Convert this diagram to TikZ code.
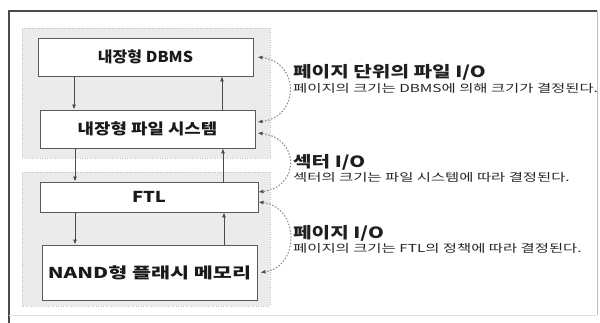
\documentclass[tikz,border=0pt]{standalone}
\usepackage{fontspec}
\usepackage{graphicx}
\setmainfont{Noto Sans CJK KR}
\usetikzlibrary{arrows.meta}
\definecolor{framedark}{HTML}{4A4A4A}
\definecolor{boxline}{HTML}{5A5A5A}
\definecolor{shade}{HTML}{EBEBEB}
\definecolor{shadeline}{HTML}{C4C4C4}
\definecolor{dotline}{HTML}{8A8A8A}
\newcommand{\hstretch}[2]{\scalebox{#1}[1]{#2}}
\begin{document}
\begin{tikzpicture}[x=1pt,y=-1pt,
  box/.style={draw=boxline, fill=white, line width=0.9pt, inner sep=0pt,
    font=\bfseries\fontsize{15}{17}\selectfont, text=black!90},
  flow/.style={draw=framedark, line width=0.8pt, -{Latex[length=5pt,width=4pt]}},
  dcurve/.style={draw=dotline, line width=1pt, dash pattern=on 1.6pt off 1.6pt,
    {Latex[length=5pt,width=4pt,color=framedark,fill=framedark]}-{Latex[length=5pt,width=4pt,color=framedark,fill=framedark]}},
  shadebox/.style={fill=shade, draw=shadeline, line width=0.8pt, dash pattern=on 1pt off 1.5pt},
  head/.style={anchor=west, font=\bfseries\fontsize{15.5}{17}\selectfont, text=black!88, inner sep=0pt},
  note/.style={anchor=west, font=\fontsize{11}{12}\selectfont, text=black!85, inner sep=0pt}
]
\useasboundingbox (0,0) rectangle (600,323);
% outer frame
\draw[framedark, line width=1.2pt] (9,323) -- (9,11) -- (597,11);
\draw[black!25, line width=0.8pt] (597,11) -- (597,315);
\draw[black!12, line width=0.8pt] (9,315) -- (597,315);
% shaded groups
\draw[shadebox] (22,28) rectangle (270,158);
\draw[shadebox] (22,172) rectangle (270,306);
% boxes
\node[box, minimum width=215pt, minimum height=38pt] (dbms) at (145.5,57) {\hstretch{1.07}{내장형 DBMS}};
\node[box, minimum width=215pt, minimum height=38pt] (fs) at (147.5,129) {\hstretch{1.19}{내장형 파일 시스템}};
\node[box, minimum width=218pt, minimum height=30pt] (ftl) at (149,197) {\hstretch{1.23}{FTL}};
\node[box, minimum width=215pt, minimum height=55pt] (nand) at (149.5,272.5) {\hstretch{1.38}{NAND형 플래시 메모리}};
% vertical arrows
\draw[flow] (dbms.south -| 74,0) -- (fs.north -| 74,0);
\draw[flow] (fs.north -| 222,0) -- (dbms.south -| 222,0);
\draw[flow] (fs.south -| 75,0) -- (ftl.north -| 75,0);
\draw[flow] (ftl.north -| 223,0) -- (fs.south -| 223,0);
\draw[flow] (ftl.south -| 75,0) -- (nand.north -| 75,0);
\draw[flow] (nand.north -| 224,0) -- (ftl.south -| 224,0);
% dotted curves
\coordinate (a1) at ([xshift=4pt]dbms.east);
\coordinate (a2) at ([xshift=2pt,yshift=7pt]fs.east);
\coordinate (b1) at ([xshift=2pt,yshift=-4pt]fs.east);
\coordinate (b2) at ([xshift=0pt,yshift=5pt]ftl.east);
\coordinate (c1) at ([xshift=0pt,yshift=-5pt]ftl.east);
\coordinate (c2) at ([xshift=3pt]nand.east);
\draw[dcurve] (a1) .. controls (300,62) and (300,117) .. (a2);
\draw[dcurve] (b1) .. controls (300,138) and (300,187) .. (b2);
\draw[dcurve] (c1) .. controls (300,207) and (300,267) .. (c2);
% labels
\node[head] (h1) at (293,72) {\hstretch{1.3}{페이지 단위의 파일 I/O}};
\node[note] (n1) at (293,88) {\hstretch{1.4}{페이지의 크기는 DBMS에 의해 크기가 결정된다.}};
\node[head] (h2) at (293,162) {\hstretch{1.3}{섹터 I/O}};
\node[note] (n2) at (293,177) {\hstretch{1.4}{섹터의 크기는 파일 시스템에 따라 결정된다.}};
\node[head] (h3) at (293,233) {\hstretch{1.3}{페이지 I/O}};
\node[note] (n3) at (293,248) {\hstretch{1.4}{페이지의 크기는 FTL의 정책에 따라 결정된다.}};
\end{tikzpicture}
\end{document}
